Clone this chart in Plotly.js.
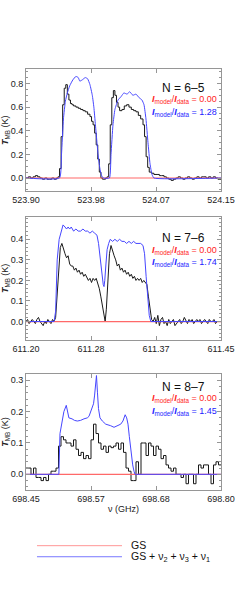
<!DOCTYPE html>
<html><head><meta charset="utf-8">
<script src="https://cdn.plot.ly/plotly-3.0.1.min.js"></script>
<style>html,body{margin:0;padding:0;background:#fff}#chart{width:240px;height:598px}</style>
</head><body><div id="chart"></div>
<script>
// ---------- Panel 1 : N = 6-5 ----------
const p1_freq_data = [523.900,523.903,523.906,523.909,523.912,523.915,523.918,523.921,523.924,523.927,523.930,523.933,523.936,523.939,523.941,523.943,523.945,523.947,523.949,523.951,523.953,523.955,523.957,523.959,523.961,523.964,523.967,523.970,523.973,523.976,523.979,523.982,523.984,523.986,523.988,523.990,523.992,523.994,523.996,523.998,524.000,524.002,524.004,524.006,524.008,524.010,524.012,524.014,524.016,524.018,524.020,524.023,524.026,524.029,524.032,524.035,524.038,524.041,524.044,524.047,524.050,524.052,524.054,524.056,524.058,524.061,524.064,524.068,524.071,524.074,524.077,524.080,524.083,524.086,524.089,524.092,524.095,524.098,524.101,524.104,524.107,524.110,524.113,524.116,524.119,524.122,524.125,524.128,524.131,524.134,524.137,524.140,524.143,524.146,524.150];
const p1_data = [0.00,0.01,0.00,0.01,0.02,0.01,0.00,-0.01,0.00,-0.01,-0.01,0.00,-0.01,0.00,0.01,0.08,0.35,0.62,0.76,0.79,0.71,0.66,0.63,0.62,0.61,0.60,0.59,0.58,0.57,0.56,0.54,0.52,0.48,0.45,0.38,0.28,0.16,0.05,0.00,-0.01,-0.01,0.00,0.01,0.12,0.45,0.68,0.74,0.70,0.64,0.60,0.57,0.58,0.61,0.62,0.60,0.58,0.57,0.56,0.53,0.50,0.45,0.35,0.18,0.09,0.05,0.04,0.03,0.03,0.02,0.02,0.01,0.00,-0.01,-0.02,-0.01,0.00,0.01,0.00,-0.01,0.00,0.01,0.00,-0.01,0.00,0.01,0.00,0.01,0.01,0.00,0.01,0.00,0.01,0.00,-0.01,0.00];
const p1_freq_model = [523.900,523.943,523.9455,523.948,523.9505,523.953,523.956,523.960,523.964,523.967,523.969,523.972,523.976,523.979,523.982,523.985,523.987,523.989,523.991,523.993,523.995,523.997,523.999,524.007,524.009,524.0115,524.014,524.018,524.022,524.0255,524.0295,524.033,524.037,524.041,524.045,524.0487,524.0513,524.0538,524.0564,524.059,524.0615,524.064,524.150];
const p1_model = [0.00,0.00,0.20,0.50,0.65,0.72,0.78,0.83,0.86,0.85,0.82,0.83,0.85,0.84,0.79,0.70,0.60,0.45,0.30,0.16,0.07,0.02,0.00,0.00,0.20,0.45,0.58,0.66,0.69,0.72,0.71,0.73,0.70,0.71,0.68,0.66,0.62,0.50,0.30,0.12,0.03,0.00,0.00];
const p1_freq_gs = [523.900,524.150];
const p1_gs = [0.00,0.00];
const p1_xtickvals = [523.900,523.98333,524.06667,524.150];
const p1_xticktext = ['523.90','523.98','524.07','524.15'];
const p1_ytickvals = [0.0,0.2,0.4,0.6,0.8];
const p1_label = 'N = 6\u20135';
const p1_ratio_gs = '0.00';
const p1_ratio_all = '1.28';

// ---------- Panel 2 : N = 7-6 ----------
const p2_freq_data = [611.200,611.202,611.204,611.206,611.208,611.210,611.212,611.214,611.216,611.218,611.220,611.222,611.224,611.226,611.228,611.230,611.232,611.234,611.236,611.238,611.240,611.242,611.244,611.246,611.248,611.250,611.252,611.254,611.256,611.258,611.260,611.262,611.264,611.266,611.268,611.270,611.272,611.274,611.276,611.278,611.280,611.282,611.284,611.286,611.288,611.290,611.292,611.294,611.296,611.298,611.300,611.3015,611.303,611.305,611.307,611.309,611.311,611.313,611.315,611.317,611.319,611.321,611.323,611.325,611.327,611.329,611.331,611.333,611.335,611.337,611.339,611.341,611.343,611.345,611.347,611.349,611.351,611.353,611.355,611.357,611.359,611.361,611.363,611.365,611.367,611.369,611.371,611.373,611.375,611.377,611.379,611.381,611.383,611.385,611.387,611.389,611.391,611.393,611.395,611.397,611.399,611.401,611.403,611.405,611.407,611.409,611.411,611.413,611.415,611.417,611.419,611.421,611.423,611.425,611.427,611.429,611.431,611.433,611.435,611.437,611.439,611.441,611.443,611.445,611.447,611.450];
const p2_data = [0.00,0.01,-0.01,0.00,0.01,0.00,-0.01,0.01,0.02,0.00,-0.01,-0.02,0.00,-0.01,0.01,0.00,-0.01,0.01,0.00,0.02,0.15,0.28,0.36,0.38,0.35,0.33,0.31,0.32,0.28,0.27,0.27,0.25,0.26,0.24,0.25,0.23,0.24,0.22,0.23,0.21,0.20,0.21,0.19,0.21,0.20,0.21,0.19,0.16,0.12,0.07,0.02,0.00,0.06,0.22,0.33,0.37,0.34,0.32,0.30,0.27,0.28,0.25,0.26,0.24,0.25,0.23,0.24,0.22,0.23,0.21,0.22,0.20,0.21,0.20,0.21,0.19,0.20,0.19,0.18,0.12,0.06,0.01,0.00,0.02,-0.01,0.03,-0.02,0.01,0.02,-0.01,0.00,-0.02,0.01,-0.01,0.00,0.01,-0.02,-0.01,0.00,0.01,-0.01,0.00,0.02,0.00,-0.01,0.01,0.00,0.01,-0.01,0.00,0.01,0.00,0.01,-0.01,0.00,0.01,0.00,-0.01,0.01,0.00,0.00,0.01,-0.01,0.00,0.00,0.00];
const p2_freq_model = [611.200,611.236,611.238,611.240,611.2425,611.245,611.2475,611.250,611.252,611.254,611.256,611.258,611.261,611.264,611.267,611.270,611.273,611.276,611.279,611.282,611.285,611.288,611.291,611.293,611.295,611.297,611.299,611.300,611.301,611.3025,611.304,611.306,611.308,611.311,611.314,611.317,611.320,611.323,611.326,611.329,611.332,611.335,611.338,611.341,611.344,611.347,611.350,611.352,611.354,611.356,611.358,611.360,611.450];
const p2_model = [0.00,0.00,0.05,0.30,0.40,0.44,0.47,0.46,0.45,0.46,0.45,0.46,0.44,0.45,0.44,0.44,0.45,0.44,0.44,0.43,0.44,0.43,0.42,0.38,0.31,0.24,0.18,0.17,0.20,0.28,0.35,0.38,0.40,0.39,0.40,0.39,0.40,0.39,0.39,0.38,0.39,0.38,0.39,0.38,0.38,0.38,0.37,0.33,0.22,0.10,0.03,0.00,0.00];
const p2_freq_gs = [611.200,611.450];
const p2_gs = [0.00,0.00];
const p2_xtickvals = [611.200,611.28333,611.36667,611.450];
const p2_xticktext = ['611.20','611.28','611.37','611.45'];
const p2_ytickvals = [0.0,0.1,0.2,0.3,0.4];
const p2_label = 'N = 7\u20136';
const p2_ratio_gs = '0.00';
const p2_ratio_all = '1.74';

// ---------- Panel 3 : N = 8-7 (histogram channels, left edges from 698.45) ----------
const p3_chan_start = 698.45;
const p3_chan_width = 0.0044872;
const p3_data = [0.02,0.02,0.00,0.02,-0.01,-0.01,-0.02,-0.01,-0.02,0.00,0.01,0.01,0.02,0.09,0.12,0.11,0.10,0.10,0.09,0.11,0.08,0.06,0.07,0.05,0.06,0.05,0.11,0.16,0.13,0.10,0.08,0.09,0.07,0.09,0.085,0.09,0.10,0.08,0.10,0.07,0.02,0.01,-0.02,-0.02,0.04,0.00,0.10,0.10,0.06,0.10,0.09,0.06,0.09,0.08,0.05,0.06,0.03,0.02,0.01,0.02,0.00,0.00,-0.01,0.00,-0.03,0.00,0.00,-0.03,0.00,0.03,0.02,0.03,0.03,0.00,-0.03,0.03,0.04,0.03,0.03];
const p3_freq_model = [698.450,698.509,698.511,698.5152,698.518,698.5223,698.5245,698.527,698.5326,698.537,698.5421,698.548,698.5541,698.560,698.5631,698.5667,698.5694,698.5712,698.573,698.5747,698.5765,698.5783,698.5801,698.5828,698.587,698.5931,698.598,698.602,698.608,698.614,698.620,698.624,698.6259,698.628,698.6307,698.6331,698.6355,698.6385,698.6415,698.6438,698.6456,698.800];
const p3_model = [0.00,0.00,0.13,0.177,0.20,0.22,0.20,0.18,0.177,0.172,0.17,0.172,0.177,0.18,0.185,0.205,0.22,0.225,0.25,0.29,0.315,0.26,0.21,0.18,0.17,0.16,0.158,0.155,0.15,0.155,0.16,0.17,0.18,0.19,0.18,0.16,0.12,0.07,0.03,0.01,0.00,0.00];
const p3_freq_gs = [698.450,698.800];
const p3_gs = [0.00,0.00];
const p3_xtickvals = [698.450,698.56667,698.68333,698.800];
const p3_xticktext = ['698.45','698.57','698.68','698.80'];
const p3_ytickvals = [0.0,0.1,0.2,0.3];
const p3_label = 'N = 8\u20137';
const p3_ratio_gs = '0.00';
const p3_ratio_all = '1.45';

// ---------- Legend ----------
const legend_labels = ['GS','GS + \u03bd<sub>2</sub> + \u03bd<sub>3</sub> + \u03bd<sub>1</sub>'];

// ---------- styling ----------
const FONT = '"Liberation Sans", Arial, Helvetica, sans-serif';
const C_DATA = 'rgb(25,25,25)';
const C_GS = 'rgb(255,105,105)';
const C_ALL = 'rgb(70,70,255)';
const C_GS_TXT = 'rgb(255,35,35)';
const C_ALL_TXT = 'rgb(35,35,255)';
const AXC = 'rgb(150,150,150)';

function xAxis(anchor, range, tv, tt, title) {
  const ax = {
    anchor: anchor, range: range, tickmode: 'array', tickvals: tv, ticktext: tt,
    ticks: 'inside', ticklen: 4, tickwidth: 1, tickcolor: AXC,
    showline: true, linecolor: AXC, linewidth: 1, mirror: 'ticks',
    showgrid: false, zeroline: false, automargin: false,
    tickfont: {family: FONT, size: 9, color: '#222'}
  };
  if (title) ax.title = {text: title, font: {family: FONT, size: 9, color: '#222'}, standoff: 2};
  return ax;
}
function yAxis(anchor, domain, range, tv, minorDt) {
  return {
    anchor: anchor, domain: domain, range: range, tickmode: 'array', tickvals: tv,
    tickformat: '.1f',
    ticks: 'inside', ticklen: 4, tickwidth: 1, tickcolor: AXC,
    minor: {dtick: minorDt, ticks: 'inside', ticklen: 2, tickcolor: AXC, showgrid: false},
    showline: true, linecolor: AXC, linewidth: 1, mirror: 'ticks',
    showgrid: false, zeroline: false, automargin: false,
    tickfont: {family: FONT, size: 9, color: '#222'},
    title: {text: '<b><i>T</i></b><sub>MB</sub> (K)', font: {family: FONT, size: 9, color: '#222'}, standoff: 3}
  };
}

const traces = [
  {x: p1_freq_data, y: p1_data, xaxis: 'x', yaxis: 'y', mode: 'lines', line: {color: C_DATA, width: 1, shape: 'hv'}, showlegend: false},
  {x: p1_freq_gs, y: p1_gs, xaxis: 'x', yaxis: 'y', mode: 'lines', line: {color: C_GS, width: 1.2}, showlegend: false},
  {x: p1_freq_model, y: p1_model, xaxis: 'x', yaxis: 'y', mode: 'lines', line: {color: C_ALL, width: 1, shape: 'spline', smoothing: 0.4}, showlegend: false},

  {x: p2_freq_data, y: p2_data, xaxis: 'x2', yaxis: 'y2', mode: 'lines', line: {color: C_DATA, width: 1}, showlegend: false},
  {x: p2_freq_gs, y: p2_gs, xaxis: 'x2', yaxis: 'y2', mode: 'lines', line: {color: C_GS, width: 1.2}, showlegend: false},
  {x: p2_freq_model, y: p2_model, xaxis: 'x2', yaxis: 'y2', mode: 'lines', line: {color: C_ALL, width: 1}, showlegend: false},

  {x0: p3_chan_start, dx: p3_chan_width, y: p3_data, xaxis: 'x3', yaxis: 'y3', mode: 'lines', line: {color: C_DATA, width: 1, shape: 'hv'}, showlegend: false},
  {x: p3_freq_gs, y: p3_gs, xaxis: 'x3', yaxis: 'y3', mode: 'lines', line: {color: C_GS, width: 1.2}, showlegend: false},
  {x: p3_freq_model, y: p3_model, xaxis: 'x3', yaxis: 'y3', mode: 'lines', line: {color: C_ALL, width: 1}, showlegend: false}
];

function panelNotes(yN, yR, yB, label, rg, ra) {
  return [
    {xref: 'paper', yref: 'paper', x: 0.81, y: yN, text: label, showarrow: false, xanchor: 'center', yanchor: 'middle', font: {family: FONT, size: 12, color: '#111'}},
    {xref: 'paper', yref: 'paper', x: 0.988, y: yR, text: '<b><i>I</i></b><sub>model</sub>/<b><i>I</i></b><sub>data</sub> = ' + rg, showarrow: false, xanchor: 'right', yanchor: 'middle', font: {family: FONT, size: 9, color: C_GS_TXT}},
    {xref: 'paper', yref: 'paper', x: 0.988, y: yB, text: '<b><i>I</i></b><sub>model</sub>/<b><i>I</i></b><sub>data</sub> = ' + ra, showarrow: false, xanchor: 'right', yanchor: 'middle', font: {family: FONT, size: 9, color: C_ALL_TXT}}
  ];
}

const annotations = [].concat(
  panelNotes(0.8528, 0.8333, 0.8122, p1_label, p1_ratio_gs, p1_ratio_all),
  panelNotes(0.6015, 0.5819, 0.5613, p2_label, p2_ratio_gs, p2_ratio_all),
  panelNotes(0.3534, 0.3339, 0.3127, p3_label, p3_ratio_gs, p3_ratio_all),
  [
    {xref: 'paper', yref: 'paper', x: 0.528, y: 0.0885, text: legend_labels[0], showarrow: false, xanchor: 'left', yanchor: 'middle', font: {family: FONT, size: 10.5, color: '#111'}},
    {xref: 'paper', yref: 'paper', x: 0.528, y: 0.0685, text: legend_labels[1], showarrow: false, xanchor: 'left', yanchor: 'middle', font: {family: FONT, size: 10.5, color: '#111'}}
  ]
);

const shapes = [
  {type: 'line', xref: 'paper', yref: 'paper', x0: 0.0564, x1: 0.4923, y0: 0.0875, y1: 0.0875, line: {color: 'rgb(255,150,150)', width: 1}},
  {type: 'line', xref: 'paper', yref: 'paper', x0: 0.0564, x1: 0.4923, y0: 0.069, y1: 0.069, line: {color: 'rgb(120,120,255)', width: 1}}
];

const layout = {
  width: 240, height: 598,
  margin: {l: 26, r: 19, t: 0, b: 0, pad: 0},
  paper_bgcolor: '#fff', plot_bgcolor: '#fff',
  showlegend: false,
  xaxis: xAxis('y', [523.90, 524.15], p1_xtickvals, p1_xticktext, ''),
  yaxis: yAxis('x', [0.6806, 0.8841], [-0.11, 0.92], p1_ytickvals, 0.05),
  xaxis2: xAxis('y2', [611.20, 611.45], p2_xtickvals, p2_xticktext, ''),
  yaxis2: yAxis('x2', [0.4314, 0.6376], [-0.09, 0.51], p2_ytickvals, 0.02),
  xaxis3: xAxis('y3', [698.45, 698.80], p3_xtickvals, p3_xticktext, '\u03bd (GHz)'),
  yaxis3: yAxis('x3', [0.1806, 0.3746], [-0.05, 0.32], p3_ytickvals, 0.02),
  annotations: annotations,
  shapes: shapes
};

Plotly.newPlot('chart', traces, layout, {displayModeBar: false, staticPlot: true});
</script></body></html>
